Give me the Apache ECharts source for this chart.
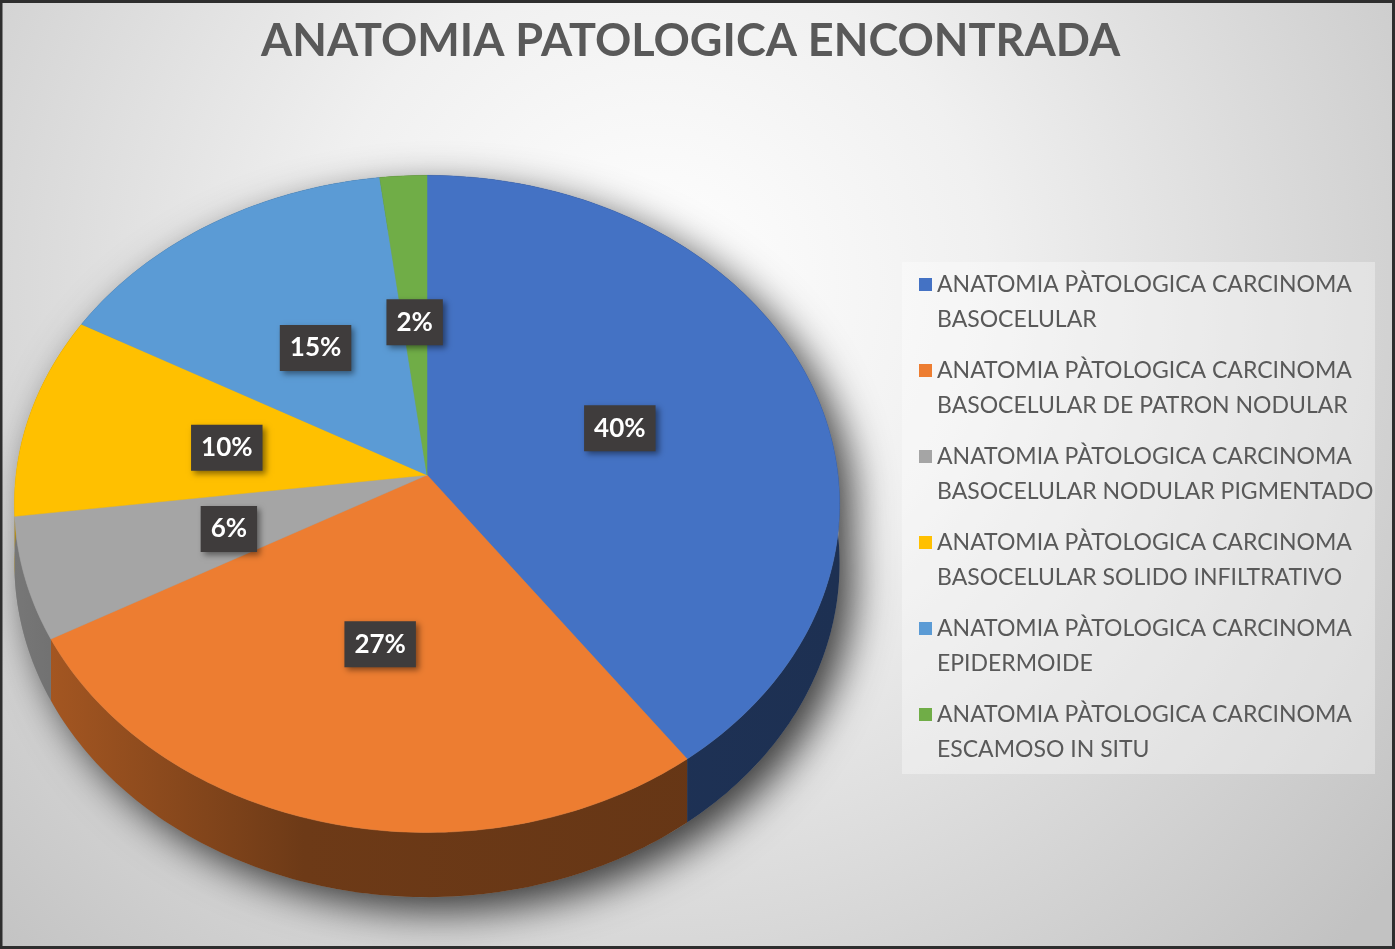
<!DOCTYPE html>
<html>
<head>
<meta charset="utf-8">
<script src="https://cdn.jsdelivr.net/npm/echarts@6/dist/echarts.min.js"></script>
<style>
  html, body { margin: 0; padding: 0; }
  #chart { width: 1395px; height: 949px; }
</style>
</head>
<body>
<div id="chart"></div>
<script>
// datos del grafico
var categorias = [
    'ANATOMIA PÀTOLOGICA CARCINOMA BASOCELULAR',
    'ANATOMIA PÀTOLOGICA CARCINOMA BASOCELULAR DE PATRON NODULAR',
    'ANATOMIA PÀTOLOGICA CARCINOMA BASOCELULAR NODULAR PIGMENTADO',
    'ANATOMIA PÀTOLOGICA CARCINOMA BASOCELULAR SOLIDO INFILTRATIVO',
    'ANATOMIA PÀTOLOGICA CARCINOMA EPIDERMOIDE',
    'ANATOMIA PÀTOLOGICA CARCINOMA ESCAMOSO IN SITU'
];
var porcentajes = [40, 27, 6, 10, 15, 2];
var colores = ['#4472C4', '#ED7D31', '#A5A5A5', '#FFC000', '#5B9BD5', '#70AD47'];

// geometria del pastel en perspectiva
var CX = 427, CY = 475, RX = 411, RY = 326, K = 0.088, DEPTH = 59;

function proj(X, Z, dz) {
    var s = 1 / (1 - K * Z);
    return [CX + RX * X * s, CY + (RY * Z + dz) * s];
}

function shade(hex, f) {
    var r = parseInt(hex.substr(1, 2), 16), g = parseInt(hex.substr(3, 2), 16), b = parseInt(hex.substr(5, 2), 16);
    return 'rgb(' + Math.round(r * f) + ',' + Math.round(g * f) + ',' + Math.round(b * f) + ')';
}

function toRad(p) {
    return (-90 + p * 3.6) * Math.PI / 180;
}

function renderSlice(params, api) {
    var start = api.value(0), val = api.value(1);
    var a0 = toRad(start), a1 = toRad(start + val);
    var n = Math.max(2, Math.ceil(val * 3.6));
    var rim = [], low = [];
    for (var i = 0; i <= n; i++) {
        var a = a0 + (a1 - a0) * i / n;
        rim.push(proj(Math.cos(a), Math.sin(a), 0));
        low.push(proj(Math.cos(a), Math.sin(a), DEPTH));
    }
    var color = api.visual('color');
    var top = [proj(0, 0, 0)].concat(rim);
    var side = rim.concat(low.slice().reverse());
    var am = toRad(start + val / 2);
    var lp = proj(0.5 * Math.cos(am), 0.5 * Math.sin(am), 0);
    return {
        type: 'group',
        children: [{
            type: 'polygon',
            z2: 1,
            shape: { points: side },
            style: {
                fill: {
                    type: 'linear', x: 15, y: 0, x2: 840, y2: 0, global: true,
                    colorStops: [
                        { offset: 0, color: shade(color, 0.72) },
                        { offset: 0.35, color: shade(color, 0.46) },
                        { offset: 1, color: shade(color, 0.42) }
                    ]
                }
            }
        }, {
            type: 'polygon',
            z2: 10,
            shape: { points: top },
            style: { fill: color, stroke: color, lineWidth: 0.5 }
        }, {
            type: 'text',
            z2: 30,
            x: lp[0],
            y: lp[1] + 3,
            style: {
                text: val + '%',
                fill: '#ffffff',
                fontFamily: 'Lato',
                fontWeight: 'bold',
                fontSize: 26,
                align: 'center',
                verticalAlign: 'middle',
                backgroundColor: '#3f3c3c',
                padding: [11, 10, 9, 10],
                shadowColor: 'rgba(0,0,0,0.45)',
                shadowBlur: 6,
                shadowOffsetX: 3,
                shadowOffsetY: 3
            }
        }]
    };
}

// sombra del pastel
function renderBase(params, api) {
    var pts = [];
    for (var d = 0; d <= 360; d += 2) {
        var a = d * Math.PI / 180;
        var dz = Math.sin(a) > 0 ? DEPTH : 0;
        pts.push(proj(Math.cos(a), Math.sin(a), dz));
    }
    return {
        type: 'polygon',
        z2: 0,
        shape: { points: pts },
        style: {
            fill: '#8a8a8a',
            shadowColor: 'rgba(0,0,0,0.75)',
            shadowBlur: 40,
            shadowOffsetX: 14,
            shadowOffsetY: 14
        }
    };
}

var series = [{
    type: 'custom',
    name: 'base',
    coordinateSystem: 'none',
    silent: true,
    renderItem: renderBase,
    data: [[0, 100]]
}];
var acum = 0;
categorias.forEach(function(nombre, i) {
    series.push({
        type: 'custom',
        name: nombre,
        coordinateSystem: 'none',
        renderItem: renderSlice,
        itemStyle: { color: colores[i] },
        data: [[acum, porcentajes[i]]]
    });
    acum += porcentajes[i];
});

var myChart = echarts.init(document.getElementById('chart'));
var option = {
    animation: false,
    title: {
        text: 'ANATOMIA PATOLOGICA ENCONTRADA',
        left: 261,
        top: 19,
        padding: 0,
        textStyle: {
            fontFamily: 'Lato',
            fontWeight: 'bold',
            fontSize: 45,
            color: '#595959'
        }
    },
    legend: {
        data: categorias,
        orient: 'vertical',
        left: 919,
        top: 232,
        padding: 0,
        itemGap: -19,
        itemWidth: 13,
        itemHeight: 13,
        icon: 'rect',
        selectedMode: false,
        formatter: function(name) {
            // linea vacia arriba para que el cuadro quede junto a la primera linea
            return '\n' + name.replace('CARCINOMA ', 'CARCINOMA\n');
        },
        textStyle: {
            fontFamily: 'Lato',
            fontSize: 23,
            color: '#595959',
            lineHeight: 35
        }
    },
    graphic: [{
        type: 'rect',
        z: -10,
        silent: true,
        shape: { x: 0, y: 0, width: 1395, height: 949 },
        style: {
            fill: {
                type: 'radial', x: 0.47, y: 0.3, r: 1,
                colorStops: [
                    { offset: 0, color: '#ffffff' },
                    { offset: 0.35, color: '#f0f0f0' },
                    { offset: 1, color: '#c2c2c2' }
                ]
            }
        }
    }, {
        type: 'rect',
        z: -9,
        silent: true,
        shape: { x: 902, y: 262, width: 473, height: 512 },
        style: { fill: 'rgba(255,255,255,0.35)' }
    }, {
        type: 'rect',
        z: 100,
        silent: true,
        shape: { x: 1, y: 1.5, width: 1392.5, height: 946 },
        style: { fill: 'none', stroke: '#2e2e2e', lineWidth: 3 }
    }],
    series: series
};
myChart.setOption(option);
</script>
</body>
</html>
